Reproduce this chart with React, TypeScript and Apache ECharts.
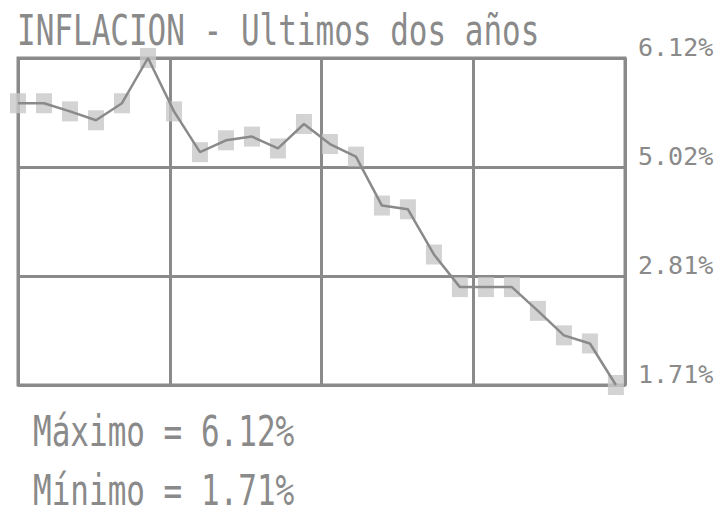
import React, { useEffect, useRef } from "react";
import * as echarts from "echarts";

const titleText = "INFLACION - Ultimos dos años";
const months = [0, 1, 2, 3, 4, 5, 6, 7, 8, 9, 10, 11, 12, 13, 14, 15, 16, 17, 18, 19, 20, 21, 22, 23];
const inflation = [
  5.51, 5.51, 5.4, 5.28, 5.51, 6.12, 5.4, 4.85, 5.01, 5.06, 4.9, 5.23,
  4.96, 4.79, 4.13, 4.08, 3.47, 3.03, 3.03, 3.03, 2.71, 2.38, 2.27, 1.71,
];
const yTickLabels = ["1.71%", "2.81%", "5.02%", "6.12%"];
const maxText = "Máximo = 6.12%";
const minText = "Mínimo = 1.71%";

const GRAY = "#8a8a8a";
const FONT = '"DejaVu Sans Mono", monospace';

export default function App() {
  const ref = useRef<HTMLDivElement>(null);
  useEffect(() => {
    if (!ref.current) return;
    const chart = echarts.init(ref.current, undefined, { renderer: "svg" });
    const pts = months.map((m, i) => [m, inflation[i]]);
    chart.setOption({
      animation: false,
      backgroundColor: "#ffffff",
      grid: {
        left: 18,
        right: 97,
        top: 58,
        bottom: 129,
        show: true,
        borderColor: GRAY,
        borderWidth: 3,
        backgroundColor: "transparent",
      },
      xAxis: [
        {
          type: "value",
          min: 0,
          max: 23.35,
          show: false,
        },
        {
          type: "value",
          min: 0,
          max: 4,
          interval: 1,
          axisLine: { show: false },
          axisTick: { show: false },
          axisLabel: { show: false },
          splitLine: { show: true, lineStyle: { color: GRAY, width: 3 } },
        },
      ],
      yAxis: [
        {
          type: "value",
          min: 1.71,
          max: 6.12,
          show: false,
        },
        {
          type: "value",
          min: 0,
          max: 3,
          interval: 1,
          position: "right",
          axisLine: { show: false },
          axisTick: { show: false },
          splitLine: { show: true, lineStyle: { color: GRAY, width: 3 } },
          axisLabel: {
            show: true,
            margin: 13,
            color: GRAY,
            fontFamily: FONT,
            fontSize: 25,
            verticalAlign: "bottom",
            lineHeight: 22,
            formatter: (v: number) => yTickLabels[Math.round(v)] ?? "",
          },
        },
      ],
      series: [
        {
          type: "scatter",
          xAxisIndex: 0,
          yAxisIndex: 0,
          data: pts,
          symbol: "rect",
          symbolSize: [16, 20],
          itemStyle: { color: "#c8c8c8" },
          z: 2,
          silent: true,
        },
        {
          type: "line",
          xAxisIndex: 0,
          yAxisIndex: 0,
          data: pts,
          showSymbol: false,
          symbol: "none",
          lineStyle: { color: GRAY, width: 2.5 },
          z: 3,
          silent: true,
        },
      ],
      graphic: [
        {
          type: "text",
          x: 17,
          y: 31,
          scaleY: 1.35,
          style: {
            text: titleText,
            fill: GRAY,
            font: `31px ${FONT}`,
            verticalAlign: "middle",
            align: "left",
          },
        },
        {
          type: "text",
          x: 33,
          y: 432,
          scaleY: 1.35,
          style: {
            text: maxText,
            fill: GRAY,
            font: `31px ${FONT}`,
            verticalAlign: "middle",
            align: "left",
          },
        },
        {
          type: "text",
          x: 33,
          y: 491,
          scaleY: 1.35,
          style: {
            text: minText,
            fill: GRAY,
            font: `31px ${FONT}`,
            verticalAlign: "middle",
            align: "left",
          },
        },
      ],
    });
    return () => chart.dispose();
  }, []);
  return (
    <div
      ref={ref}
      style={{ position: "fixed", left: 0, top: 0, width: 722, height: 514 }}
    />
  );
}
